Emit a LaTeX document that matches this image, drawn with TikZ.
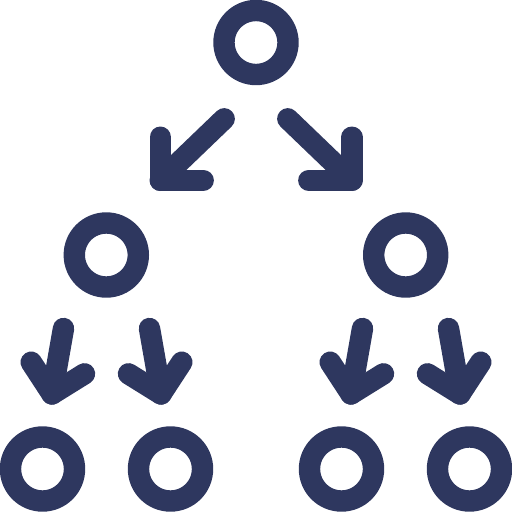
\documentclass[tikz,border=0pt]{standalone}
\definecolor{navy}{RGB}{46,55,95}
\tikzset{
  ring/.style={draw=navy, line width=21.4pt},
  arrowline/.style={draw=navy, line width=21.4pt, line cap=round, line join=round}
}
\begin{document}
\begin{tikzpicture}[x=1pt,y=-1pt]
\useasboundingbox (0,0) rectangle (512,512);
% circles
\foreach \n/\cx/\cy in {top/256/42.5, ml/106.3/255, mr/405.7/255, b1/42.5/469, b2/170.5/469, b3/341.5/469, b4/469.5/469}{
  \coordinate (\n) at (\cx,\cy);
  \draw[ring] (\n) circle[radius=32];
}
% top arrows
\coordinate (tlc) at (160.2,180.3);
\draw[arrowline] (160.2,137.2) -- (tlc) -- (203.2,180.3);
\draw[arrowline] (tlc) -- (224.2,118.8);
\coordinate (trc) at (351.8,180.3);
\draw[arrowline] (351.8,137.2) -- (trc) -- (308.8,180.3);
\draw[arrowline] (trc) -- (287.8,118.8);
% bottom arrows
\foreach \n/\tx/\cx/\ax/\bx in {a/63.5/52/31.2/84.5, b/149.5/161/181.8/128.5, c/362.5/351/330.2/383.5, d/448.5/460/480.8/427.5}{
  \coordinate (\n c) at (\cx,394);
  \draw[arrowline] (\ax,362.2) -- (\n c) -- (\bx,373.8);
  \draw[arrowline] (\n c) -- (\tx,328.5);
}
\end{tikzpicture}
\end{document}
